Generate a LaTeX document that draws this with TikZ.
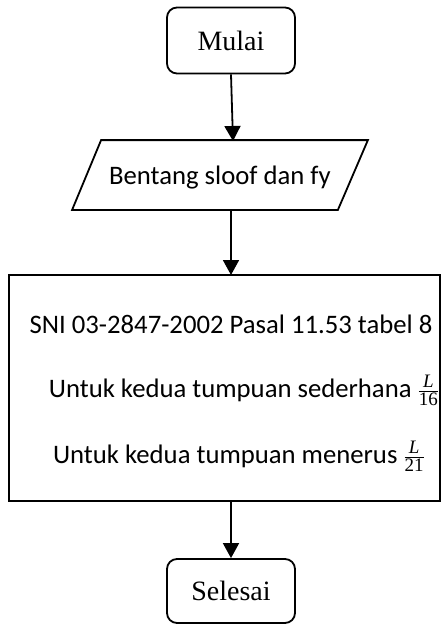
\documentclass[tikz,border=0pt]{standalone}
\usepackage{fontspec}
\setmainfont{Liberation Serif}
\newfontfamily\calib{Carlito}
\newfontfamily\fracfont{Liberation Serif}
\newcommand{\myfr}[2]{$\frac{\hbox{\fracfont\fontsize{19}{19}\selectfont\itshape #1}}{\hbox{\fracfont\fontsize{19}{19}\selectfont #2}}$}
\usetikzlibrary{arrows.meta}
\begin{document}
\begin{tikzpicture}[x=1pt,y=-1pt,line width=1.8pt,
  term/.style={draw,rounded corners=10pt,minimum width=128pt,minimum height=66pt,inner sep=0pt,font=\fontsize{28}{32}\selectfont},
  procbox/.style={draw,minimum width=431pt,minimum height=226pt,inner sep=0pt},
  txt/.style={anchor=base,inner sep=0pt,font=\calib\fontsize{26.7}{30}\selectfont},
  arr/.style={-{Triangle[length=15pt,width=16pt]}}]
\useasboundingbox (0,0) rectangle (445,625);
% start
\node[term] (mulai) at (231,40.5) {Mulai};
% input parallelogram
\node[inner sep=0pt,minimum width=294pt,minimum height=68pt] (inp) at (220,175) {};
\draw ([xshift=29pt]inp.north west) -- (inp.north east) -- ([xshift=-30pt]inp.south east) -- (inp.south west) -- cycle;
\node[txt] (inptxt) at (220,184) {Bentang sloof dan fy};
\coordinate (inpin) at (233,141);
\coordinate (inpout) at (231,209);
% process
\node[procbox] (proc) at (224.5,388) {};
\coordinate (procin) at (231,275);
\coordinate (procout) at (231,501);
\node[txt] (l1) at (231,333) {SNI 03-2847-2002 Pasal 11.53 tabel 8};
\node[txt] (l2) at (244,397) {Untuk kedua tumpuan sederhana \myfr{L}{16}};
\node[txt] (l3) at (239,463) {Untuk kedua tumpuan menerus \myfr{L}{21}};
% end
\node[term,minimum height=64pt] (selesai) at (231,591) {Selesai};
% connectors
\draw[arr] (mulai.south) -- (inpin);
\draw[arr] (inpout) -- (procin);
\draw[arr] (procout) -- (selesai.north);
\end{tikzpicture}
\end{document}
